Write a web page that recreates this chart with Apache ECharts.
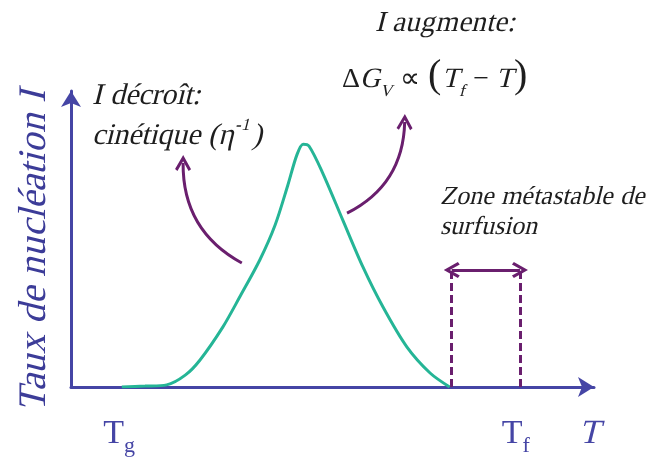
<!DOCTYPE html>
<html><head><meta charset="utf-8">
<script src="https://cdn.jsdelivr.net/npm/echarts@6/dist/echarts.min.js"></script>
<style>
@font-face { font-family: 'SerifSlant'; src: local('Liberation Serif'), local('LiberationSerif'), local('Liberation Serif Regular'); font-style: normal; font-weight: 400; }
html,body{margin:0;padding:0;background:#fff}#c{width:663px;height:457px}
</style>
</head><body><div id="c"></div>
<script>
// Nucleation-rate curve I(T) (arbitrary units)
const curveX = [9.6, 14.0, 18.1, 21.6, 24.4, 28.7, 31.9, 35.7, 38.6, 41.0, 42.7, 43.9, 45.0, 47.6, 51.4, 55.2, 59.0, 63.5, 67.9, 71.6];
const curveY = [0, 0.3, 0.7, 3.9, 8.9, 19.7, 29.6, 41.8, 53.3, 66.4, 76.3, 79.9, 79.3, 70.4, 54.9, 39.5, 26.3, 13.2, 4.6, 0];
// Temperature tick labels
const tickValues = [9.1, 84.1, 98.0];
const tickLabels = ['Tg', 'Tf', 'T'];
// Metastable supercooling zone
const zoneX = [72.0, 84.9];
const zoneTop = 38.5;
// Annotation arrows (start, end)
const arrowLeft = [[32.3, 40.8], [21.2, 73.7]];
const arrowRight = [[52.2, 57.2], [63.1, 87.2]];

const AXIS = '#4545a5';
const PURPLE = '#6a1f6e';
const TEAL = '#25b596';
const chevron = 'path://M0,12 L8,0 L16,12 L13.6,13.6 L8,5.2 L2.4,13.6 Z';
const SERIF = 'Liberation Serif';
const ITAL = 'SerifSlant, Liberation Serif';

function buildOption() {
  return {
  animation: false,
  backgroundColor: '#fff',
  grid: { left: 71, right: 69, top: 91, bottom: 70, outerBoundsMode: 'none', containLabel: false },
  xAxis: {
    type: 'value', min: 0, max: 98.9,
    splitLine: { show: false },
    axisTick: { show: false },
    axisLine: { lineStyle: { color: AXIS, width: 3 }, symbol: ['none', 'arrow'], symbolSize: [15, 16] },
    axisLabel: {
      customValues: tickValues,
      margin: 24,
      formatter: function (v) {
        let i = tickValues.indexOf(v);
        if (i < 0) { let best = 0; tickValues.forEach((t, k) => { if (Math.abs(t - v) < Math.abs(tickValues[best] - v)) best = k; }); i = best; }
        const s = tickLabels[i];
        if (s.length === 1) return '{it|' + s + '}';
        return '{t|' + s[0] + '}{s|' + s.slice(1) + '}';
      },
      rich: {
        t: { fontFamily: SERIF, fontSize: 34, color: AXIS, lineHeight: 40, verticalAlign: 'bottom' },
        s: { fontFamily: SERIF, fontSize: 22, color: AXIS, lineHeight: 40, verticalAlign: 'bottom', padding: [0, 0, -6, 0] },
        it: { fontFamily: ITAL, fontStyle: 'italic', fontSize: 34, color: AXIS, lineHeight: 40, verticalAlign: 'bottom' }
      }
    }
  },
  yAxis: {
    type: 'value', min: 0, max: 97.4,
    splitLine: { show: false },
    axisTick: { show: false },
    axisLabel: { show: false },
    axisLine: { lineStyle: { color: AXIS, width: 3 }, symbol: ['none', 'arrow'], symbolSize: [15, 16] },
    name: 'Taux de nucléation I',
    nameLocation: 'middle',
    nameRotate: 90,
    nameGap: 17,
    nameTextStyle: { fontFamily: ITAL, fontStyle: 'italic', fontSize: 39, color: '#3c3c98', padding: [0, 24, 0, 0] }
  },
  series: [
    {
      type: 'line', z: 5,
      data: curveX.map((x, i) => [x, curveY[i]]),
      showSymbol: false, smooth: 0.3,
      lineStyle: { color: TEAL, width: 3 }
    },
    {
      type: 'lines', coordinateSystem: 'cartesian2d', z: 4,
      symbol: ['none', chevron], symbolSize: 16,
      lineStyle: { color: PURPLE, width: 3, opacity: 1 },
      data: [
        { coords: arrowLeft, lineStyle: { curveness: 0.3 } },
        { coords: arrowRight, lineStyle: { curveness: -0.3 } }
      ]
    },
    {
      type: 'lines', coordinateSystem: 'cartesian2d', z: 4,
      symbol: [chevron, chevron], symbolSize: 16,
      lineStyle: { color: PURPLE, width: 3, opacity: 1 },
      data: [{ coords: [[zoneX[0], zoneTop], [zoneX[1], zoneTop]] }]
    },
    {
      type: 'lines', coordinateSystem: 'cartesian2d', z: 4,
      symbol: ['none', 'none'],
      lineStyle: { color: PURPLE, width: 3, opacity: 1, type: [8, 4] },
      data: zoneX.map(x => ({ coords: [[x, 0], [x, zoneTop]] }))
    }
  ],
  graphic: [
    { type: 'text', left: 92, top: 81, style: { text: 'I décroît:', fontFamily: ITAL, fontStyle: 'italic', fontSize: 30, fill: '#1e1e1e' } },
    { type: 'text', left: 92, top: 117, style: {
        text: '{a|cinétique (η}{b|-1}{a|)}', fill: '#1e1e1e',
        rich: { a: { fontFamily: ITAL, fontStyle: 'italic', fontSize: 30, lineHeight: 34, verticalAlign: 'bottom' },
                b: { fontFamily: ITAL, fontStyle: 'italic', fontSize: 17, lineHeight: 34, verticalAlign: 'top', padding: [0, 2, 0, 1] } } } },
    { type: 'text', left: 375, top: 9, style: { text: 'I augmente:', fontFamily: ITAL, fontStyle: 'italic', fontSize: 29, fill: '#1e1e1e' } },
    { type: 'text', left: 342, top: 56, style: {
        text: '{u|Δ}{i|G}{sub|V}{u| ∝ }{p|(}{i|T}{sub|f}{u| − }{i|T}{p|)}', fill: '#1e1e1e',
        rich: {
          u: { fontFamily: SERIF, fontSize: 28, lineHeight: 40, verticalAlign: 'bottom', padding: [0, 0, 2, 0] },
          i: { fontFamily: ITAL, fontStyle: 'italic', fontSize: 28, lineHeight: 40, verticalAlign: 'bottom', padding: [0, 0, 2, 0] },
          sub: { fontFamily: ITAL, fontStyle: 'italic', fontSize: 17, lineHeight: 40, verticalAlign: 'bottom', padding: [0, 1, -4, 0] },
          p: { fontFamily: SERIF, fontSize: 40, lineHeight: 40, verticalAlign: 'bottom', padding: [0, 1, 0, 1] }
        } } },
    { type: 'text', left: 440, top: 184, style: { text: 'Zone métastable de', fontFamily: ITAL, fontStyle: 'italic', fontSize: 26, fill: '#1e1e1e' } },
    { type: 'text', left: 440, top: 214, style: { text: 'surfusion', fontFamily: ITAL, fontStyle: 'italic', fontSize: 26, fill: '#1e1e1e' } }
  ]
  };
}

const chart = echarts.init(document.getElementById('c'));
chart.setOption(buildOption());
if (document.fonts && document.fonts.load) {
  document.fonts.load('italic 28px SerifSlant').then(function () {
    chart.clear();
    chart.setOption(buildOption(), true);
  }).catch(function () {});
}
</script>
</body></html>
